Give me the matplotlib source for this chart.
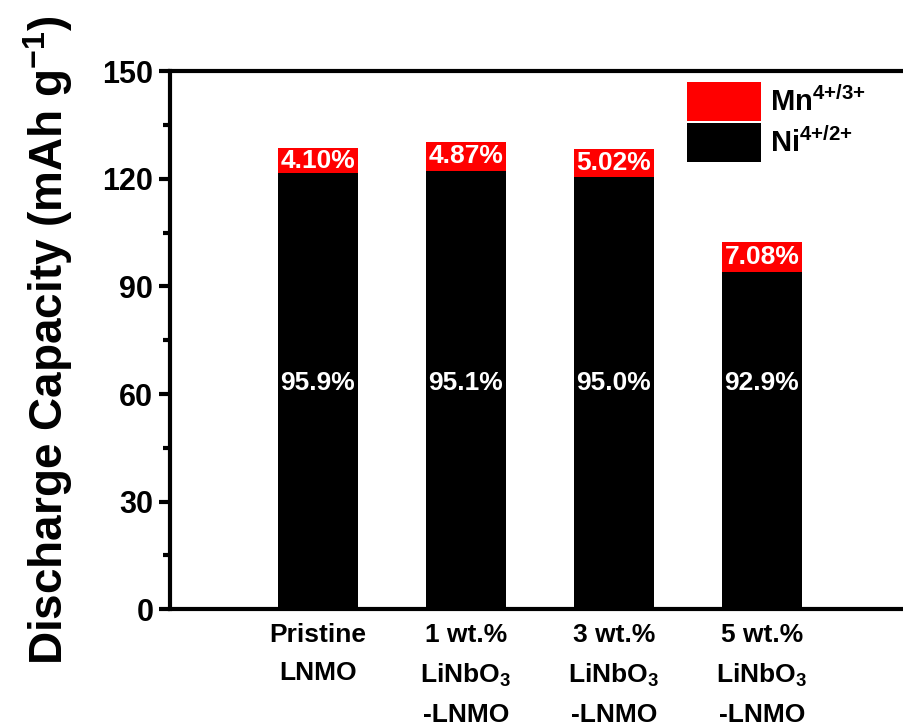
import matplotlib
matplotlib.use("Agg")
import matplotlib.pyplot as plt
from matplotlib.patches import Patch

plt.rcParams['font.family'] = ['Liberation Sans', 'DejaVu Sans']
plt.rcParams['font.weight'] = 'bold'
plt.rcParams['mathtext.fontset'] = 'custom'
plt.rcParams['mathtext.rm'] = 'Liberation Sans:bold'
plt.rcParams['mathtext.bf'] = 'Liberation Sans:bold'
plt.rcParams['mathtext.it'] = 'Liberation Sans:bold'
plt.rcParams['mathtext.default'] = 'regular'

categories = ["Pristine\nLNMO", "1 wt.%\nLiNbO$_3$\n-LNMO",
              "3 wt.%\nLiNbO$_3$\n-LNMO", "5 wt.%\nLiNbO$_3$\n-LNMO"]
ni_capacity = [121.6, 122.2, 120.5, 94.0]
mn_capacity = [6.9, 8.1, 7.9, 8.4]
mn_labels = ["4.10%", "4.87%", "5.02%", "7.08%"]
ni_labels = ["95.9%", "95.1%", "95.0%", "92.9%"]
series_names = [r"Mn$^{\text{4+/3+}}$", r"Ni$^{\text{4+/2+}}$"]
yticks = [0, 30, 60, 90, 120, 150]

fig = plt.figure(figsize=(9.04, 7.27), dpi=100)
ax = fig.add_axes([0.188, 0.162, 0.8186, 0.740])

x = list(range(1, len(categories) + 1))
ax.bar(x, ni_capacity, width=0.54, color='black', zorder=2)
ax.bar(x, mn_capacity, width=0.54, bottom=ni_capacity, color='#ff0000', zorder=2)

for xi, n, m, ml, nl in zip(x, ni_capacity, mn_capacity, mn_labels, ni_labels):
    ax.text(xi, n + m / 2, ml, color='white', fontsize=19, fontweight='bold',
            ha='center', va='center', zorder=3)
    ax.text(xi, 63.0, nl, color='white', fontsize=19, fontweight='bold',
            ha='center', va='center', zorder=3)

ax.set_xlim(0, 5)
ax.set_ylim(0, 150)
ax.set_xticks(x)
ax.set_xticklabels(categories, fontsize=19, fontweight='bold', linespacing=1.72, va='top')
ax.set_yticks(yticks)
ax.set_yticks([15, 45, 75, 105, 135], minor=True)
ax.tick_params(axis='y', which='major', direction='out', length=8, width=3,
               labelsize=22, pad=4)
ax.tick_params(axis='y', which='minor', direction='out', length=5, width=3)
ax.tick_params(axis='x', which='both', length=0, pad=10)
for lbl in ax.get_yticklabels():
    lbl.set_fontweight('bold')

for s in ax.spines.values():
    s.set_linewidth(3)

ax.set_ylabel("Discharge Capacity (mAh g$^{-1}$)", fontsize=33, fontweight='bold',
              labelpad=20)

handles = [Patch(facecolor='#ff0000', edgecolor='none'),
           Patch(facecolor='black', edgecolor='none')]
leg = ax.legend(handles, series_names, loc='upper left',
                bbox_to_anchor=(687 / 904, 1 - 82 / 727), bbox_transform=fig.transFigure,
                frameon=False, fontsize=21, handlelength=2.54, handleheight=1.68,
                labelspacing=0.07, handletextpad=0.3, borderpad=0, borderaxespad=0)
for t in leg.get_texts():
    t.set_fontweight('bold')

fig.savefig("out.png", dpi=100)
